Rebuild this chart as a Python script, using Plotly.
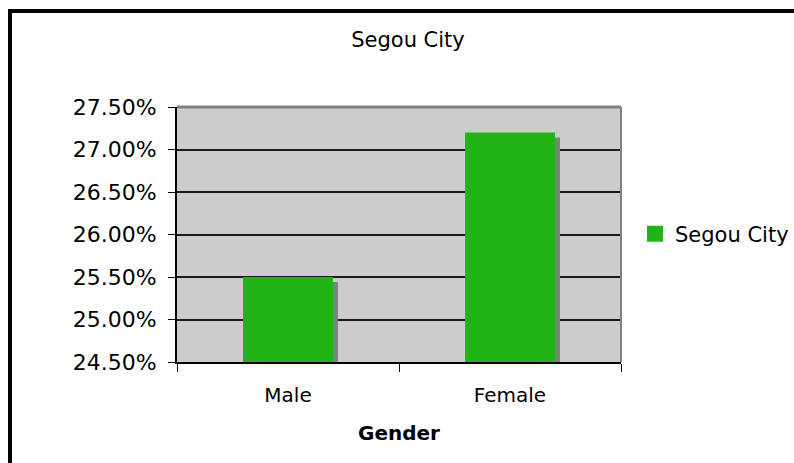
import plotly.graph_objects as go

categories = ["Male", "Female"]
values = [25.5, 27.2]          # percent
series_name = "Segou City"
y_ticks = [24.5, 25.0, 25.5, 26.0, 26.5, 27.0, 27.5]

GREEN = "#20B418"
SHADOW = "#808080"
FONT = "DejaVu Sans"

W, H = 794, 463
L, R, T, B = 177, 173, 107, 101
plot_w = W - L - R
plot_h = H - T - B
y_min, y_max = 24.5, 27.5
bar_w = 0.405
px_per_cat = plot_w / len(categories)
px_per_unit = plot_h / (y_max - y_min)
sh_dx = 5 / px_per_cat
sh_dy = 5 / px_per_unit

fig = go.Figure()
fig.add_trace(go.Bar(
    x=categories, y=[v - sh_dy for v in values],
    width=bar_w, offset=-bar_w / 2 + sh_dx,
    marker=dict(color=SHADOW, line=dict(width=0)),
    showlegend=False, hoverinfo="skip",
))
fig.add_trace(go.Bar(
    x=categories, y=values, name=series_name,
    width=bar_w, offset=-bar_w / 2,
    marker=dict(color=GREEN, line=dict(width=0)),
    showlegend=False,
))
# legend entry for the series (larger square swatch)
fig.add_trace(go.Scatter(
    x=[None], y=[None], mode="markers", name=series_name,
    marker=dict(symbol="square", size=16, color=GREEN),
    showlegend=True,
))

def px_x(p):
    return (p - L) / plot_w

def px_y(p):
    return (H - B - p) / plot_h

fig.update_layout(
    width=W, height=H,
    margin=dict(l=L, r=R, t=T, b=B, autoexpand=False),
    paper_bgcolor="white", plot_bgcolor="#CCCCCC",
    barmode="overlay",
    font=dict(family=FONT, size=20, color="black"),
    title=dict(text="Segou City", x=408 / W, xanchor="center",
               y=1 - 40 / H, yanchor="middle",
               font=dict(family=FONT, size=21, color="black")),
    showlegend=True,
    legend=dict(x=px_x(635), y=px_y(234), xanchor="left", yanchor="middle",
                font=dict(family=FONT, size=21, color="black"),
                bgcolor="rgba(0,0,0,0)", itemwidth=30, itemsizing="trace"),
    xaxis=dict(type="category", tickson="boundaries", ticks="outside",
               ticklen=8, tickcolor="black", tickwidth=1,
               showline=True, linecolor="black", linewidth=2,
               showgrid=False, ticklabelstandoff=14,
               tickfont=dict(family=FONT, size=20, color="black"),
               title=dict(text="<b>Gender</b>", standoff=20,
                          font=dict(family=FONT, size=20, color="black"))),
    yaxis=dict(range=[y_min, y_max], tickvals=y_ticks,
               ticktext=[f"{v:.2f}%" for v in y_ticks],
               ticks="outside", ticklen=7, tickcolor="black", tickwidth=1,
               showline=True, linecolor="black", linewidth=2,
               showgrid=True, gridcolor="#1a1a1a", gridwidth=1.5,
               zeroline=False, ticklabelstandoff=7,
               tickfont=dict(family=FONT, size=22, color="black")),
    shapes=[
        dict(type="line", xref="paper", yref="paper", x0=0, x1=1, y0=1, y1=1,
             line=dict(color="#808080", width=3), layer="above"),
        dict(type="line", xref="paper", yref="paper", x0=1, x1=1, y0=0, y1=1,
             line=dict(color="#808080", width=2), layer="above"),
        dict(type="rect", xref="paper", yref="paper",
             x0=px_x(10), x1=px_x(W + 20), y0=px_y(H + 20), y1=px_y(11),
             line=dict(color="black", width=4), fillcolor="rgba(0,0,0,0)",
             layer="above"),
    ],
)

fig.write_html("out.html", config={"displayModeBar": False},
               post_script="document.body.style.margin='0';document.body.style.overflow='hidden';")
